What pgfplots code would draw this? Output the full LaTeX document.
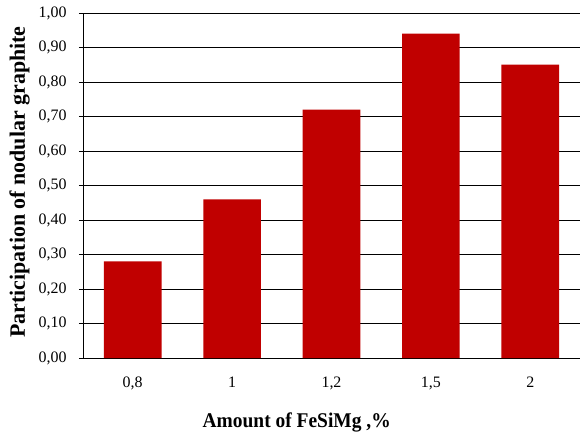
\documentclass[border=0pt]{standalone}
\usepackage{fontspec}
\setmainfont{Liberation Serif}
\usepackage{pgfplots}
\pgfplotsset{compat=1.18}
\definecolor{barred}{HTML}{C00000}

\begin{document}
\begin{tikzpicture}
\begin{axis}[
    name=ax,
    scale only axis,
    width=497bp, height=345bp,
    ymin=0, ymax=1,
    ytick={0,0.1,...,1.01},
    xmin=-0.5, xmax=4.5,
    xtick=data,
    xticklabels={{0,8},1,{1,2},{1,5},2},
    axis x line*=bottom,
    axis y line*=left,
    axis line style={black, line width=0.9pt},
    ymajorgrids,
    grid style={black, line width=0.9pt},
    x tick style={draw=none},
    y tick style={black, line width=0.9pt},
    ytick pos=left,
    tick align=outside,
    major tick length=4bp,
    /pgf/number format/assume math mode=true,
    ticklabel style={font=\fontsize{16}{18}\selectfont},
    yticklabel style={/pgf/number format/fixed, /pgf/number format/fixed zerofill,
        /pgf/number format/precision=2, /pgf/number format/use comma,
        anchor=east, xshift=-9bp},
    xticklabel style={anchor=base, yshift=-25bp},
    xlabel={\scalebox{0.93}[1]{Amount of FeSiMg ,\%}},
    ylabel={Participation of nodular graphite},
    xlabel style={font=\bfseries\fontsize{21}{23}\selectfont,
        at={(axis description cs:0.43,0)}, anchor=base, yshift=-69bp},
    ylabel style={font=\bfseries\fontsize{22}{24}\selectfont,
        at={(axis description cs:-0.1167,0.51)}, anchor=base},
    clip=false,
]
\addplot[ybar, bar width=0.58, fill=barred, draw=none] coordinates {
    (0, 0.28)
    (1, 0.46)
    (2, 0.72)
    (3, 0.94)
    (4, 0.85)
};
\end{axis}
\pgfresetboundingbox
\path[use as bounding box] ([shift={(-83bp,-74bp)}]ax.south west) rectangle ++(580bp,432bp);
\end{tikzpicture}
\end{document}
